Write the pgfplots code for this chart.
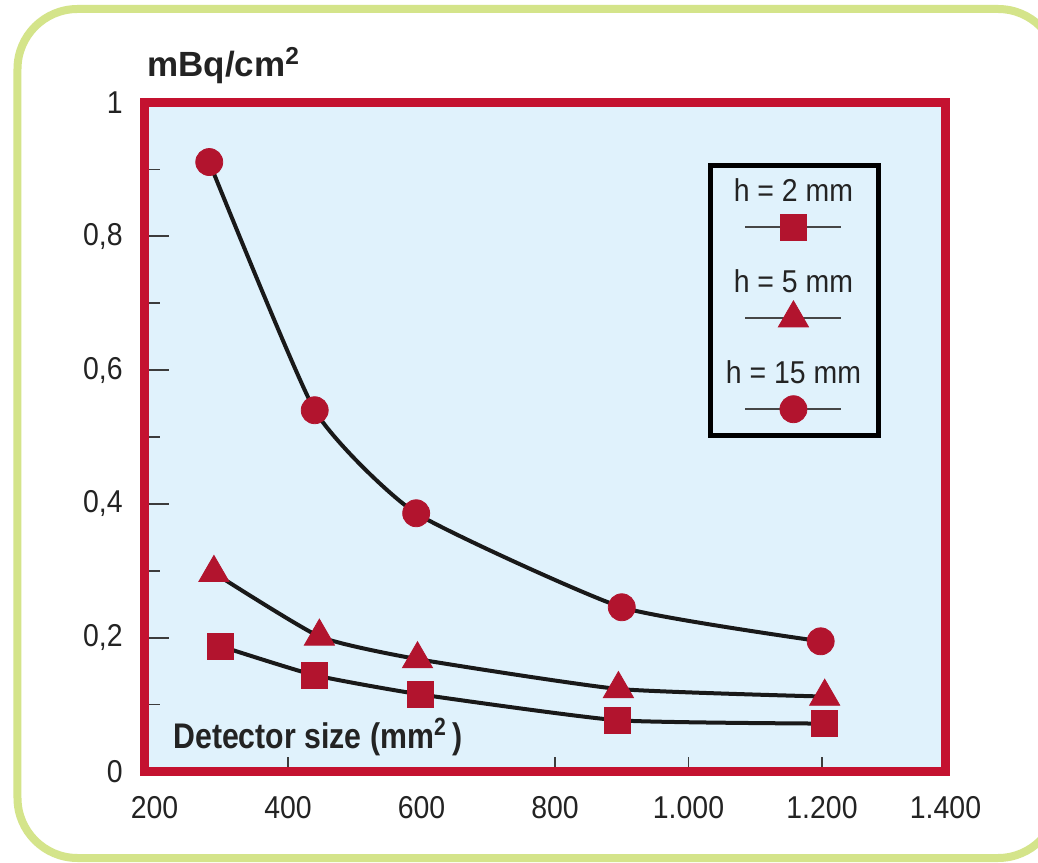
\documentclass[border=0pt]{standalone}
\usepackage{fontspec}
\setmainfont{Liberation Sans}[FakeStretch=0.9]
\newfontfamily\condfont{Liberation Sans}[FakeStretch=0.85]
\newfontfamily\titlefont{Liberation Sans}[FakeStretch=1.0]
\usepackage{pgfplots}
\usepackage{pgfplotstable}
\pgfplotsset{compat=1.18}
\definecolor{frameRed}{RGB}{196,18,48}
\definecolor{markRed}{RGB}{178,20,46}
\definecolor{bgBlue}{RGB}{224,242,252}
\definecolor{greenBorder}{RGB}{212,228,138}
\definecolor{tickGray}{RGB}{60,60,60}
\definecolor{textGray}{RGB}{35,35,35}
\definecolor{lineBlack}{RGB}{25,25,25}
\definecolor{lineGray}{RGB}{70,70,70}

\pgfplotstableread{
x y
298 0.1876
439 0.1442
598 0.1153
894 0.0766
1203 0.0716
}\sqdata
\pgfplotstableread{
x y
289 0.297
447 0.2018
594 0.168
895 0.1234
1204 0.112
}\tridata
\pgfplotstableread{
x y
282 0.911
440 0.540
592 0.386
900 0.2455
1198 0.1946
}\circdata

\newcommand{\lfont}{\fontsize{15.8}{16}\selectfont}
\newcommand{\legimg}[1]{%
  \path[draw=none, fill=none] (-30pt,-8pt) rectangle (30pt,26pt);
  \node[draw=none, fill=none, anchor=base, inner sep=0pt, text=textGray, font=\lfont] at (0pt,13pt) {#1};
  \draw[lineGray, line width=0.9pt, mark=none] (-24pt,0pt) -- (24pt,0pt);
  \path plot coordinates {(0pt,0pt)};
}

\begin{document}
\begin{tikzpicture}
\path[use as bounding box, clip] (-72.25pt,-45.25pt) rectangle (446.75pt,385.75pt);
\fill[white] (-72.25pt,-45.25pt) rectangle (446.75pt,385.75pt);
\draw[greenBorder, line width=4pt, rounded corners=30pt, fill=white] (-63.5pt,-43.25pt) rectangle (456.75pt,381.25pt);
\begin{axis}[
  at={(0,0)}, anchor=south west,
  scale only axis, width=400.5pt, height=334.5pt,
  xmin=185, xmax=1385, ymin=0, ymax=1,
  axis background/.style={fill=bgBlue},
  axis line style={draw=frameRed, line width=4.5pt},
  xtick={200,400,600,800,1000,1200,1385},
  xticklabels={200,400,600,800,1.000,1.200,1.400},
  minor xtick={400,800,1000,1200},
  major x tick style={draw=none},
  ytick={0,0.2,0.4,0.6,0.8,1},
  yticklabels={0,{0,2},{0,4},{0,6},{0,8},1},
  minor ytick={0.1,0.3,0.5,0.7,0.9},
  xtick pos=bottom, ytick pos=left,
  tick align=inside,
  major tick length=12.25pt, minor tick length=7.5pt,
  tick style={draw=tickGray, line width=0.8pt},
  xticklabel style={anchor=north, inner sep=0pt, yshift=-12.25pt},
  yticklabel style={anchor=east, inner sep=0pt, xshift=-10.75pt},
  ticklabel style={font=\lfont, text=textGray},
  /pgf/number format/assume math mode=true,
  clip=false,
  legend style={at={(axis cs:1029,0.910)}, anchor=north west, draw=black, line width=2.5pt,
    fill=bgBlue, inner xsep=7.75pt, inner ysep=5pt, row sep=11.5pt, column sep=0pt,
    nodes={inner sep=0pt, text depth=0pt}},
]
\addplot[draw=lineBlack, line width=2pt, smooth, tension=0.3, mark=square*, mark size=6.5pt,
  mark options={draw=markRed, fill=markRed, line width=0.4pt, solid},
  legend image code/.code={\legimg{h = 2 mm}}] table {\sqdata};
\addlegendentry{\hbox{}}
\addplot[draw=lineBlack, line width=2pt, smooth, tension=0.3, mark=triangle*, mark size=8.7pt,
  mark options={draw=markRed, fill=markRed, line width=0.4pt, solid},
  legend image code/.code={\legimg{h = 5 mm}}] table {\tridata};
\addlegendentry{\hbox{}}
\addplot[draw=lineBlack, line width=2pt, smooth, tension=0.3, mark=*, mark size=6.75pt,
  mark options={draw=markRed, fill=markRed, line width=0.4pt, solid},
  legend image code/.code={\legimg{h = 15 mm}}] table {\circdata};
\addlegendentry{\hbox{}}
\node[anchor=base west, inner sep=0pt, text=textGray, font=\titlefont\bfseries\fontsize{17.5}{18}\selectfont]
  at (rel axis cs:0,1) [xshift=1.25pt, yshift=12.75pt] {mBq/cm\textsuperscript{2}};
\node[anchor=base west, inner sep=0pt, text=textGray, font=\condfont\bfseries\fontsize{17.8}{18}\selectfont]
  at (rel axis cs:0,0) [xshift=14.25pt, yshift=11.6pt] {Detector size (mm\textsuperscript{2}\,)};
\end{axis}
\end{tikzpicture}
\end{document}
